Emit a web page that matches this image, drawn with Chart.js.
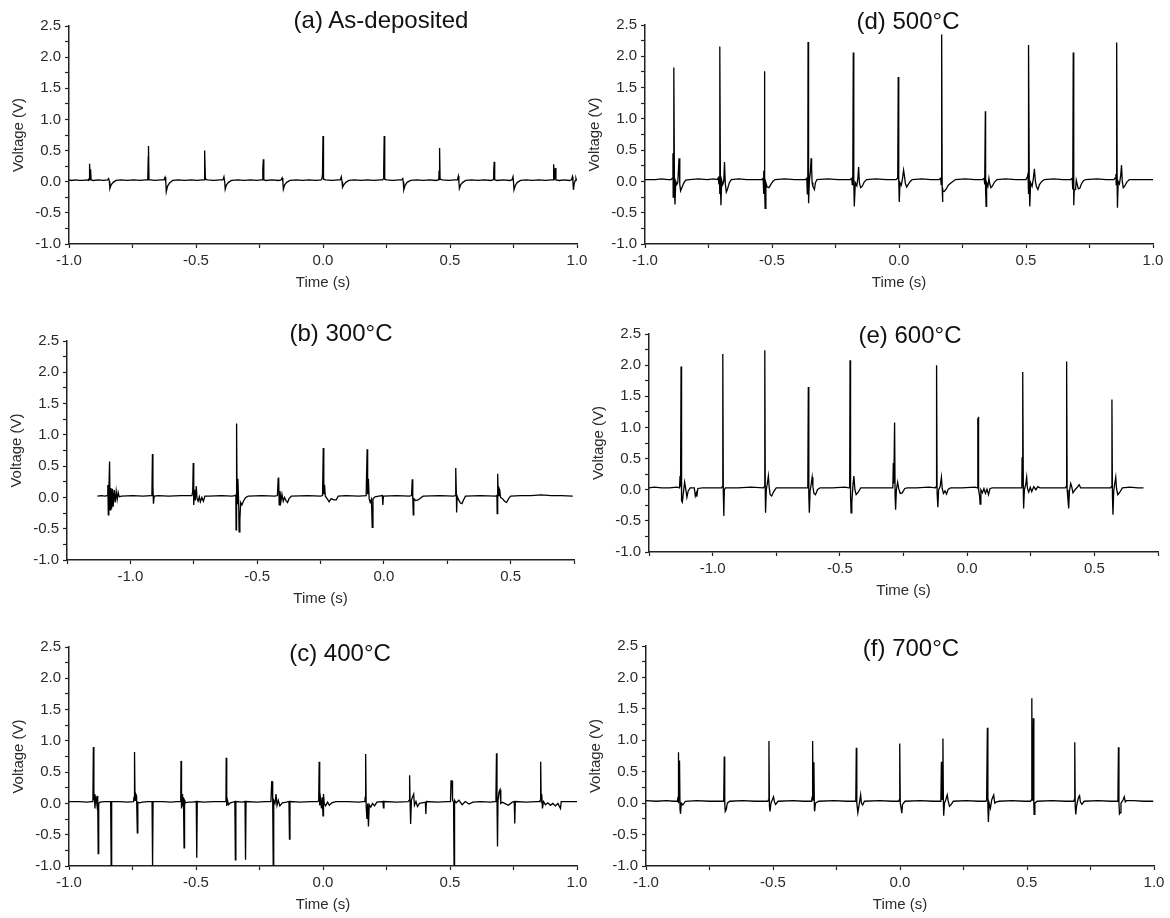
<!DOCTYPE html>
<html lang="en">
<head>
  <meta charset="UTF-8" />
  <title>Voltage output vs time</title>
  <script src="https://cdn.jsdelivr.net/npm/chart.js"></script>
  <style>
    body {
      margin: 0;
      background: white;
      width: 1170px;
      height: 918px;
      position: relative;
      overflow: hidden;
      font-family: "Liberation Sans", Arial, sans-serif;
    }
    canvas { position: absolute; }
    .panel-title {
      position: absolute;
      font-size: 24px;
      line-height: 1;
      color: #111;
      white-space: nowrap;
      transform: translate(-50%, -50%);
    }
  </style>
</head>
<body>
  <script>
    // [time (s), voltage (V)]
    const ptsA = [
      [-1.000,0.03],[-0.990,0.02],[-0.975,0.03],[-0.960,0.02],[-0.945,0.02],[-0.930,0.03],
      [-0.923,0.02],[-0.921,0.05],[-0.919,0.29],[-0.917,0.03],[-0.915,0.20],[-0.913,0.03],[-0.905,0.02],[-0.885,0.03],[-0.865,0.02],
      [-0.848,0.03],[-0.844,0.05],[-0.841,0.00],[-0.839,-0.11],[-0.834,-0.05],[-0.826,-0.01],[-0.815,0.02],[-0.795,0.03],[-0.770,0.02],[-0.745,0.03],[-0.720,0.02],[-0.700,0.03],
      [-0.690,0.03],[-0.688,0.40],[-0.687,0.575],[-0.685,0.03],[-0.680,0.03],[-0.660,0.02],[-0.640,0.03],
      [-0.626,0.03],[-0.622,0.07],[-0.619,0.00],[-0.617,-0.16],[-0.612,-0.07],[-0.604,-0.02],[-0.592,0.02],[-0.570,0.03],[-0.545,0.02],[-0.520,0.03],[-0.495,0.02],[-0.475,0.03],
      [-0.468,0.03],[-0.467,0.40],[-0.465,0.50],[-0.463,0.04],[-0.455,0.03],[-0.430,0.02],[-0.405,0.03],
      [-0.394,0.03],[-0.390,0.08],[-0.387,0.00],[-0.385,-0.12],[-0.380,-0.05],[-0.372,-0.01],[-0.360,0.02],[-0.335,0.03],[-0.310,0.02],[-0.285,0.03],[-0.260,0.02],[-0.243,0.03],
      [-0.238,0.03],[-0.237,0.20],[-0.235,0.36],[-0.233,0.03],[-0.225,0.02],[-0.200,0.03],[-0.175,0.02],
      [-0.165,0.03],[-0.161,0.06],[-0.158,0.00],[-0.156,-0.12],[-0.151,-0.05],[-0.143,-0.01],[-0.130,0.02],[-0.105,0.03],[-0.080,0.02],[-0.055,0.03],[-0.030,0.02],[-0.008,0.03],
      [-0.004,0.05],[-0.002,0.12],[0.000,0.735],[0.002,0.04],[0.010,0.03],[0.035,0.02],[0.060,0.03],
      [0.068,0.03],[0.072,0.08],[0.075,0.00],[0.077,-0.09],[0.082,-0.05],[0.090,-0.01],[0.102,0.02],[0.125,0.03],[0.150,0.02],[0.175,0.03],[0.200,0.02],[0.225,0.03],[0.235,0.03],
      [0.238,0.05],[0.239,0.20],[0.241,0.735],[0.243,0.04],[0.250,0.03],[0.275,0.02],[0.300,0.03],
      [0.310,0.03],[0.314,0.05],[0.316,0.00],[0.318,-0.13],[0.323,-0.06],[0.331,-0.01],[0.345,0.02],[0.370,0.03],[0.395,0.02],[0.420,0.03],[0.445,0.02],[0.453,0.03],
      [0.456,0.05],[0.457,0.17],[0.459,0.54],[0.461,0.04],[0.470,0.03],[0.495,0.02],[0.520,0.03],
      [0.529,0.03],[0.533,0.09],[0.535,0.00],[0.537,-0.11],[0.542,-0.05],[0.550,-0.01],[0.562,0.02],[0.585,0.03],[0.610,0.02],[0.635,0.03],[0.660,0.02],[0.669,0.03],
      [0.671,0.04],[0.672,0.15],[0.674,0.32],[0.676,0.03],[0.685,0.02],[0.710,0.03],[0.735,0.02],
      [0.744,0.03],[0.748,0.08],[0.750,0.00],[0.752,-0.13],[0.757,-0.06],[0.765,-0.01],[0.778,0.02],[0.800,0.03],[0.825,0.02],[0.850,0.03],[0.875,0.02],[0.900,0.03],
      [0.906,0.03],[0.907,0.22],[0.909,0.28],[0.911,0.03],[0.915,0.22],[0.917,0.03],[0.930,0.02],[0.950,0.03],[0.970,0.02],
      [0.978,0.03],[0.982,0.08],[0.984,0.00],[0.986,-0.13],[0.989,-0.03],[0.993,0.02],[0.996,0.05],[0.998,0.02]
    ];

    const ptsB = [
      [-1.130,0.02],[-1.115,0.03],[-1.100,0.02],[-1.092,0.03],[-1.089,0.20],[-1.087,-0.28],[-1.085,0.10],[-1.082,0.573],[-1.080,-0.20],[-1.077,0.15],[-1.074,-0.18],[-1.071,0.14],[-1.068,-0.15],[-1.064,0.12],[-1.060,-0.08],[-1.056,0.10],[-1.052,-0.03],[-1.048,0.08],[-1.044,0.01],[-1.035,0.02],
      [-0.990,0.03],[-0.950,0.02],[-0.918,0.03],[-0.915,0.05],[-0.913,0.695],[-0.911,0.18],[-0.909,-0.10],[-0.906,0.02],[-0.890,0.03],
      [-0.850,0.02],[-0.800,0.03],[-0.757,0.03],[-0.754,0.10],[-0.752,0.55],[-0.750,-0.12],[-0.747,0.12],[-0.744,-0.05],[-0.740,0.18],[-0.737,-0.02],[-0.733,-0.06],[-0.728,0.01],[-0.724,-0.07],[-0.718,0.00],[-0.712,-0.06],[-0.706,0.02],[-0.690,0.02],
      [-0.640,0.03],[-0.600,0.02],[-0.587,0.03],[-0.584,0.05],[-0.583,-0.52],[-0.581,1.18],[-0.579,-0.10],[-0.576,0.30],[-0.573,-0.05],[-0.571,-0.55],[-0.568,-0.35],[-0.565,-0.08],[-0.560,-0.12],[-0.553,-0.05],[-0.545,0.00],[-0.535,0.02],
      [-0.480,0.03],[-0.430,0.02],[-0.420,0.03],[-0.417,0.30],[-0.415,0.32],[-0.413,-0.12],[-0.410,0.10],[-0.406,-0.06],[-0.402,0.05],[-0.397,-0.06],[-0.392,0.00],[-0.386,-0.05],[-0.380,-0.08],[-0.374,-0.02],[-0.365,0.02],
      [-0.300,0.03],[-0.250,0.02],[-0.242,0.03],[-0.239,0.79],[-0.237,0.05],[-0.234,0.20],[-0.231,0.02],[-0.222,-0.03],[-0.216,-0.07],[-0.208,-0.02],[-0.198,-0.04],[-0.188,-0.04],[-0.180,0.02],
      [-0.150,0.03],[-0.100,0.02],[-0.070,0.03],[-0.066,0.77],[-0.064,0.05],[-0.061,0.30],[-0.058,-0.02],[-0.054,-0.08],[-0.049,-0.03],[-0.046,-0.48],[-0.043,-0.02],[-0.035,0.01],[-0.020,0.02],[-0.006,0.03],[-0.004,-0.12],[-0.002,0.02],
      [0.050,0.03],[0.100,0.02],[0.109,0.03],[0.112,0.29],[0.114,0.00],[0.116,-0.28],[0.118,-0.02],[0.125,-0.05],[0.135,-0.04],[0.145,-0.01],[0.155,0.02],
      [0.220,0.03],[0.275,0.02],[0.281,0.03],[0.283,0.35],[0.284,0.47],[0.286,0.05],[0.287,-0.24],[0.289,0.02],[0.295,-0.04],[0.302,-0.09],[0.308,-0.10],[0.314,-0.04],[0.322,0.02],
      [0.380,0.03],[0.440,0.02],[0.446,0.03],[0.447,-0.26],[0.449,0.38],[0.451,0.03],[0.454,0.15],[0.457,0.12],[0.460,0.00],[0.468,-0.02],[0.476,-0.06],[0.484,-0.08],[0.492,-0.02],[0.500,0.02],
      [0.540,0.03],[0.580,0.03],[0.620,0.04],[0.660,0.03],[0.700,0.03],[0.745,0.02]
    ];

    const ptsC = [
      [-1.000,0.03],[-0.960,0.03],[-0.930,0.02],[-0.910,0.03],[-0.906,0.03],[-0.904,0.90],[-0.902,0.05],[-0.900,0.15],[-0.898,-0.08],[-0.894,0.12],[-0.890,-0.02],[-0.887,0.12],[-0.885,-0.80],[-0.883,0.00],[-0.878,0.02],[-0.860,0.03],[-0.836,0.03],[-0.834,-1.02],[-0.832,0.03],[-0.800,0.03],[-0.770,0.02],
      [-0.746,0.03],[-0.744,0.10],[-0.742,0.82],[-0.740,0.05],[-0.737,0.15],[-0.734,0.12],[-0.731,-0.47],[-0.729,0.02],[-0.722,0.01],[-0.712,0.02],[-0.690,0.03],[-0.673,0.03],[-0.671,-1.02],[-0.669,0.03],[-0.630,0.03],[-0.600,0.02],
      [-0.575,0.03],[-0.562,0.03],[-0.560,0.12],[-0.559,0.68],[-0.557,-0.08],[-0.555,0.15],[-0.553,-0.05],[-0.551,0.10],[-0.549,-0.02],[-0.547,-0.71],[-0.545,0.05],[-0.540,0.01],[-0.530,0.02],[-0.515,0.02],[-0.499,0.03],[-0.497,-0.87],[-0.495,0.03],[-0.470,0.02],[-0.430,0.03],
      [-0.390,0.03],[-0.384,0.03],[-0.382,0.08],[-0.381,0.73],[-0.379,-0.04],[-0.376,0.05],[-0.372,-0.02],[-0.365,0.01],[-0.355,0.02],[-0.347,0.03],[-0.345,-0.90],[-0.343,0.03],[-0.320,0.02],[-0.307,0.03],[-0.305,-0.90],[-0.303,0.03],[-0.260,0.02],[-0.230,0.03],
      [-0.205,0.03],[-0.202,0.35],[-0.200,0.35],[-0.198,0.05],[-0.196,-1.02],[-0.194,0.05],[-0.189,0.00],[-0.185,0.15],[-0.181,-0.03],[-0.176,0.05],[-0.170,-0.04],[-0.160,0.01],[-0.145,0.02],[-0.134,0.03],[-0.132,-0.57],[-0.130,0.03],[-0.090,0.02],[-0.050,0.03],
      [-0.020,0.03],[-0.017,0.05],[-0.015,0.665],[-0.013,-0.03],[-0.010,0.08],[-0.006,-0.08],[-0.003,0.10],[0.000,-0.20],[0.002,0.15],[0.005,0.00],[0.010,-0.04],[0.018,0.02],[0.025,-0.03],[0.035,0.01],[0.050,0.03],[0.100,0.03],[0.140,0.02],
      [0.160,0.03],[0.165,0.03],[0.166,0.10],[0.168,0.79],[0.170,-0.05],[0.173,-0.25],[0.176,0.00],[0.179,-0.37],[0.182,-0.02],[0.188,-0.06],[0.195,0.00],[0.203,-0.04],[0.212,0.02],[0.236,0.03],[0.238,-0.07],[0.240,0.03],[0.290,0.02],
      [0.335,0.03],[0.339,0.05],[0.341,0.45],[0.343,0.00],[0.345,-0.33],[0.348,0.05],[0.352,0.10],[0.357,0.15],[0.360,-0.03],[0.366,0.03],[0.372,-0.05],[0.380,0.00],[0.390,0.01],[0.403,0.02],[0.405,-0.17],[0.407,0.03],[0.450,0.02],[0.490,0.03],
      [0.502,0.03],[0.504,0.36],[0.508,0.36],[0.510,0.05],[0.514,0.02],[0.516,-1.02],[0.518,0.05],[0.524,0.01],[0.535,0.05],[0.548,-0.02],[0.560,0.03],[0.575,-0.01],[0.590,0.02],[0.620,0.03],[0.660,0.02],
      [0.678,0.03],[0.681,0.15],[0.683,0.80],[0.685,0.05],[0.687,-0.69],[0.689,0.05],[0.693,0.18],[0.697,0.22],[0.700,0.00],[0.706,0.02],[0.715,0.00],[0.730,-0.03],[0.745,0.02],[0.753,0.03],[0.755,-0.32],[0.757,0.03],[0.800,0.02],[0.840,0.03],
      [0.852,0.03],[0.855,0.05],[0.857,0.665],[0.859,0.02],[0.861,0.15],[0.864,-0.08],[0.868,0.03],[0.876,-0.02],[0.885,0.01],[0.895,-0.03],[0.905,0.00],[0.915,-0.04],[0.925,0.00],[0.935,-0.08],[0.938,0.03],[0.960,0.03],[1.000,0.03]
    ];

    const ptsD = [
      [-1.000,0.03],[-0.960,0.03],[-0.935,0.04],[-0.910,0.03],
      [-0.897,0.03],[-0.893,0.05],[-0.890,0.45],[-0.889,-0.25],[-0.887,0.10],[-0.886,1.82],[-0.884,-0.10],[-0.882,-0.37],[-0.879,0.00],[-0.875,-0.05],[-0.871,-0.02],[-0.866,0.37],[-0.863,-0.05],[-0.860,-0.15],[-0.855,-0.10],[-0.848,-0.03],[-0.840,0.02],[-0.825,0.03],[-0.790,0.04],[-0.755,0.03],[-0.730,0.04],
      [-0.716,0.03],[-0.711,0.06],[-0.709,-0.05],[-0.707,0.08],[-0.706,-0.20],[-0.705,2.155],[-0.703,-0.05],[-0.701,-0.38],[-0.698,0.02],[-0.694,-0.05],[-0.690,0.00],[-0.687,0.31],[-0.684,-0.03],[-0.680,-0.17],[-0.675,-0.12],[-0.668,-0.02],[-0.660,0.03],[-0.630,0.04],[-0.600,0.03],[-0.560,0.03],
      [-0.540,0.03],[-0.535,0.05],[-0.533,0.17],[-0.532,-0.20],[-0.531,0.05],[-0.530,1.76],[-0.528,-0.10],[-0.527,-0.43],[-0.524,-0.02],[-0.519,-0.09],[-0.512,-0.10],[-0.505,-0.05],[-0.497,0.00],[-0.488,0.03],[-0.450,0.04],[-0.410,0.03],[-0.380,0.03],
      [-0.368,0.03],[-0.363,0.05],[-0.361,-0.20],[-0.359,0.10],[-0.358,2.23],[-0.356,-0.35],[-0.353,0.00],[-0.349,0.15],[-0.346,0.37],[-0.344,0.20],[-0.342,-0.02],[-0.339,-0.08],[-0.333,-0.13],[-0.329,-0.02],[-0.323,0.03],[-0.280,0.04],[-0.240,0.03],[-0.205,0.03],
      [-0.192,0.03],[-0.186,0.05],[-0.184,-0.05],[-0.182,0.03],[-0.180,2.06],[-0.178,0.00],[-0.176,-0.40],[-0.172,-0.02],[-0.166,-0.07],[-0.162,0.05],[-0.159,0.23],[-0.156,-0.02],[-0.151,-0.10],[-0.145,-0.08],[-0.137,-0.01],[-0.128,0.03],[-0.090,0.04],[-0.050,0.03],[-0.025,0.03],
      [-0.012,0.03],[-0.005,0.05],[-0.003,1.67],[-0.001,0.02],[0.001,-0.33],[0.004,-0.02],[0.009,-0.06],[0.014,0.05],[0.018,0.18],[0.021,0.10],[0.025,-0.03],[0.030,-0.09],[0.036,-0.05],[0.044,0.00],[0.052,0.03],[0.090,0.04],[0.125,0.03],[0.150,0.03],
      [0.158,0.03],[0.164,0.05],[0.166,-0.05],[0.168,2.35],[0.170,-0.10],[0.171,-0.33],[0.173,-0.15],[0.178,-0.16],[0.186,-0.12],[0.194,-0.06],[0.203,-0.03],[0.212,0.00],[0.222,0.03],[0.260,0.04],[0.300,0.03],[0.320,0.03],
      [0.328,0.03],[0.335,0.05],[0.337,-0.05],[0.338,0.02],[0.340,1.12],[0.341,-0.15],[0.343,-0.40],[0.345,-0.02],[0.350,-0.08],[0.354,0.05],[0.358,-0.05],[0.362,-0.10],[0.368,-0.07],[0.376,-0.01],[0.386,0.03],[0.420,0.04],[0.460,0.03],[0.490,0.03],
      [0.500,0.03],[0.506,0.08],[0.508,0.12],[0.509,-0.20],[0.510,0.06],[0.511,2.18],[0.513,-0.10],[0.515,-0.40],[0.518,-0.02],[0.524,-0.08],[0.529,0.05],[0.533,0.20],[0.537,0.00],[0.541,-0.08],[0.547,-0.13],[0.553,-0.05],[0.562,0.00],[0.572,0.03],[0.610,0.04],[0.645,0.03],[0.665,0.03],
      [0.676,0.03],[0.682,0.05],[0.684,-0.13],[0.686,2.06],[0.688,-0.38],[0.690,-0.13],[0.695,-0.13],[0.698,0.02],[0.702,-0.05],[0.706,-0.12],[0.712,-0.11],[0.718,-0.04],[0.726,0.01],[0.735,0.03],[0.780,0.04],[0.815,0.03],[0.835,0.03],
      [0.846,0.03],[0.852,0.06],[0.854,0.12],[0.855,-0.05],[0.857,2.22],[0.859,-0.10],[0.860,-0.42],[0.863,0.00],[0.868,-0.04],[0.873,0.10],[0.876,0.26],[0.879,0.00],[0.883,-0.10],[0.889,-0.07],[0.897,-0.01],[0.907,0.03],[0.950,0.03],[1.000,0.03]
    ];

    const ptsE = [
      [-1.250,0.03],[-1.230,0.04],[-1.200,0.03],[-1.170,0.03],[-1.140,0.04],[-1.130,0.03],[-1.128,0.22],[-1.126,0.05],[-1.124,1.98],[-1.122,-0.18],[-1.119,-0.20],[-1.115,-0.05],[-1.110,0.12],[-1.106,0.02],[-1.101,-0.12],[-1.096,-0.02],[-1.088,0.03],[-1.072,0.03],[-1.068,-0.10],[-1.064,-0.05],[-1.062,-0.11],[-1.058,0.02],[-1.040,0.03],
      [-1.000,0.03],[-0.965,0.03],[-0.962,0.05],[-0.960,2.18],[-0.958,-0.05],[-0.956,-0.42],[-0.954,0.00],[-0.950,0.03],
      [-0.900,0.03],[-0.850,0.04],[-0.800,0.03],[-0.797,0.05],[-0.795,2.24],[-0.793,-0.10],[-0.792,-0.37],[-0.789,0.00],[-0.785,0.10],[-0.781,0.22],[-0.778,0.05],[-0.774,-0.08],[-0.768,-0.10],[-0.760,-0.03],[-0.750,0.03],
      [-0.700,0.03],[-0.650,0.03],[-0.628,0.03],[-0.626,0.05],[-0.624,1.65],[-0.622,-0.10],[-0.620,-0.37],[-0.617,-0.02],[-0.613,0.08],[-0.609,0.20],[-0.606,0.05],[-0.602,-0.06],[-0.596,-0.08],[-0.588,0.00],[-0.578,0.03],
      [-0.530,0.03],[-0.480,0.04],[-0.464,0.03],[-0.462,0.22],[-0.461,0.05],[-0.460,2.08],[-0.458,-0.10],[-0.456,-0.37],[-0.453,-0.20],[-0.449,0.05],[-0.445,0.22],[-0.441,0.00],[-0.436,-0.08],[-0.428,-0.04],[-0.418,0.03],
      [-0.360,0.03],[-0.310,0.03],[-0.292,0.03],[-0.290,0.43],[-0.288,0.10],[-0.285,1.08],[-0.283,-0.10],[-0.281,-0.32],[-0.278,0.00],[-0.273,0.12],[-0.269,0.02],[-0.263,-0.06],[-0.255,-0.05],[-0.245,0.02],[-0.235,0.03],
      [-0.200,0.03],[-0.150,0.04],[-0.124,0.03],[-0.122,0.05],[-0.120,2.00],[-0.118,-0.05],[-0.115,-0.28],[-0.112,0.00],[-0.106,0.05],[-0.101,0.20],[-0.098,0.02],[-0.093,-0.06],[-0.087,-0.02],[-0.081,-0.07],[-0.074,0.01],[-0.065,0.03],
      [-0.020,0.03],[0.030,0.04],[0.040,0.03],[0.042,1.15],[0.043,0.10],[0.044,1.17],[0.046,0.00],[0.049,-0.10],[0.051,-0.23],[0.054,0.00],[0.060,-0.05],[0.066,0.02],[0.072,-0.06],[0.078,0.01],[0.084,-0.08],[0.090,0.02],[0.100,0.03],
      [0.160,0.03],[0.212,0.03],[0.215,0.10],[0.216,0.52],[0.218,0.05],[0.219,1.89],[0.221,-0.10],[0.222,-0.30],[0.225,0.00],[0.230,0.08],[0.234,0.20],[0.237,0.02],[0.242,-0.04],[0.248,0.04],[0.254,-0.03],[0.262,0.05],[0.270,0.00],[0.278,0.05],[0.286,0.03],
      [0.340,0.03],[0.386,0.03],[0.389,0.05],[0.391,2.06],[0.393,0.00],[0.396,-0.15],[0.399,-0.30],[0.402,-0.02],[0.407,0.10],[0.411,0.05],[0.416,-0.05],[0.424,0.00],[0.433,0.04],[0.440,0.08],[0.446,0.03],
      [0.500,0.03],[0.564,0.03],[0.567,0.05],[0.569,1.45],[0.571,-0.10],[0.573,-0.40],[0.576,-0.02],[0.580,0.10],[0.584,0.20],[0.587,0.02],[0.592,-0.08],[0.600,-0.04],[0.610,0.03],[0.640,0.04],[0.670,0.03],[0.693,0.03]
    ];

    const ptsF = [
      [-1.000,0.04],[-0.960,0.03],[-0.920,0.04],[-0.890,0.03],[-0.876,0.03],[-0.874,0.10],[-0.873,0.81],[-0.871,0.00],[-0.868,0.68],[-0.866,-0.10],[-0.864,-0.17],[-0.861,0.00],[-0.855,-0.03],[-0.845,0.03],[-0.800,0.04],[-0.750,0.03],
      [-0.696,0.03],[-0.694,0.05],[-0.692,0.74],[-0.690,0.00],[-0.688,-0.13],[-0.684,-0.10],[-0.680,0.00],[-0.670,0.03],[-0.620,0.04],[-0.570,0.03],
      [-0.520,0.03],[-0.518,0.05],[-0.516,0.99],[-0.514,-0.05],[-0.512,-0.13],[-0.508,0.00],[-0.503,0.05],[-0.498,0.10],[-0.494,0.02],[-0.490,-0.02],[-0.480,0.03],[-0.420,0.04],[-0.380,0.03],
      [-0.348,0.03],[-0.346,0.10],[-0.344,0.99],[-0.342,0.05],[-0.339,0.65],[-0.337,-0.10],[-0.336,-0.13],[-0.333,0.00],[-0.320,0.03],[-0.260,0.04],[-0.210,0.03],
      [-0.176,0.03],[-0.174,0.05],[-0.172,0.88],[-0.170,0.00],[-0.166,-0.15],[-0.162,-0.05],[-0.158,0.05],[-0.155,0.13],[-0.152,0.00],[-0.147,-0.03],[-0.140,0.03],[-0.080,0.04],[-0.030,0.03],
      [-0.005,0.03],[-0.003,0.05],[-0.001,0.95],[0.001,0.00],[0.005,-0.10],[0.007,-0.16],[0.010,-0.02],[0.020,0.03],[0.080,0.04],[0.130,0.03],
      [0.158,0.03],[0.161,0.05],[0.163,0.66],[0.165,0.05],[0.167,0.10],[0.169,1.03],[0.171,-0.05],[0.172,-0.20],[0.175,0.00],[0.180,0.05],[0.186,0.13],[0.190,0.03],[0.195,-0.05],[0.202,-0.02],[0.210,0.03],[0.260,0.04],[0.310,0.03],
      [0.338,0.03],[0.341,0.05],[0.344,1.20],[0.346,-0.05],[0.348,-0.30],[0.351,0.00],[0.356,-0.08],[0.361,0.05],[0.366,0.10],[0.369,0.13],[0.373,0.00],[0.380,0.02],[0.390,0.03],[0.440,0.04],[0.490,0.03],
      [0.514,0.03],[0.517,0.05],[0.519,1.67],[0.521,0.05],[0.523,0.10],[0.525,1.35],[0.527,-0.05],[0.528,-0.18],[0.531,0.00],[0.540,0.03],[0.600,0.04],[0.650,0.03],
      [0.684,0.03],[0.686,0.05],[0.688,0.97],[0.690,-0.05],[0.692,-0.18],[0.695,-0.05],[0.700,0.05],[0.704,0.10],[0.707,0.12],[0.710,0.02],[0.716,-0.02],[0.725,0.03],[0.780,0.04],[0.830,0.03],
      [0.855,0.03],[0.858,0.05],[0.860,0.89],[0.862,0.00],[0.864,-0.17],[0.867,-0.15],[0.870,0.00],[0.878,0.05],[0.883,0.10],[0.887,0.02],[0.892,0.04],[0.920,0.04],[0.960,0.03],[0.997,0.03]
    ];

    // labelled (major) tick values; minor ticks sit halfway between
    const yMajor = [-1.0, -0.5, 0.0, 0.5, 1.0, 1.5, 2.0, 2.5];
    const xMajor = [-1.0, -0.5, 0.0, 0.5, 1.0];
    const panelTitles = ["(a) As-deposited", "(b) 300°C", "(c) 400°C", "(d) 500°C", "(e) 600°C", "(f) 700°C"];
    const xTitle = "Time (s)";
    const yTitle = "Voltage (V)";

    const font = "'Liberation Sans', Arial, sans-serif";
    const Y_W = 59, X_H = 48, PAD_T = 12, PAD_R = 16;

    // plot area box (L,R,T,B) in page pixels, plus title centre
    const panels = [
      { pts: ptsA, title: panelTitles[0], xMin: -1.0,  xMax: 1.0,  L: 69,  R: 577,  T: 25,  B: 244, tx: 381, ty: 20 },
      { pts: ptsB, title: panelTitles[1], xMin: -1.25, xMax: 0.75, L: 67,  R: 574,  T: 340, B: 560, tx: 341, ty: 333 },
      { pts: ptsC, title: panelTitles[2], xMin: -1.0,  xMax: 1.0,  L: 69,  R: 577,  T: 646, B: 866, tx: 340, ty: 653 },
      { pts: ptsD, title: panelTitles[3], xMin: -1.0,  xMax: 1.0,  L: 645, R: 1153, T: 24,  B: 244, tx: 908, ty: 21 },
      { pts: ptsE, title: panelTitles[4], xMin: -1.25, xMax: 0.75, L: 649, R: 1158, T: 333, B: 552, tx: 910, ty: 335 },
      { pts: ptsF, title: panelTitles[5], xMin: -1.0,  xMax: 1.0,  L: 646, R: 1154, T: 645, B: 866, tx: 911, ty: 648 }
    ];

    function axis(min, max, major, text, fit) {
      return {
        type: 'linear', min, max,
        ticks: {
          stepSize: 0.25, autoSkip: false, maxRotation: 0, padding: 4,
          color: '#2b2b2b', font: { family: font, size: 15 },
          callback: v => major.some(m => Math.abs(m - v) < 1e-6) ? (Math.abs(v) < 1e-9 ? 0 : v).toFixed(1) : ''
        },
        grid: { display: true, drawOnChartArea: false, drawTicks: true, tickLength: 4, color: '#222', tickWidth: 1.2 },
        border: { display: true, color: '#222', width: 1.5 },
        title: { display: true, text, color: '#2b2b2b', font: { family: font, size: 15 }, padding: 0 },
        afterFit: fit
      };
    }

    for (const p of panels) {
      const w = Y_W + (p.R - p.L) + PAD_R;
      const h = PAD_T + (p.B - p.T) + X_H;
      const c = document.createElement('canvas');
      c.width = w; c.height = h;
      c.style.width = w + 'px'; c.style.height = h + 'px';
      c.style.left = (p.L - Y_W) + 'px';
      c.style.top = (p.T - PAD_T) + 'px';
      document.body.appendChild(c);

      const t = document.createElement('div');
      t.className = 'panel-title';
      t.textContent = p.title;
      t.style.left = p.tx + 'px';
      t.style.top = p.ty + 'px';
      document.body.appendChild(t);

      new Chart(c, {
        type: 'scatter',
        data: {
          datasets: [{
            data: p.pts.map(([x, y]) => ({ x, y })),
            showLine: true,
            borderColor: '#000',
            borderWidth: 1.3,
            pointRadius: 0,
            tension: 0
          }]
        },
        options: {
          responsive: false,
          animation: false,
          devicePixelRatio: 1,
          layout: { padding: { top: PAD_T, right: PAD_R, left: 0, bottom: 0 } },
          plugins: { legend: { display: false }, tooltip: { enabled: false } },
          scales: {
            x: axis(p.xMin, p.xMax, xMajor, xTitle, s => { s.height = X_H; }),
            y: axis(-1.0, 2.5, yMajor, yTitle, s => { s.width = Y_W; })
          }
        }
      });
    }
  </script>
</body>
</html>
